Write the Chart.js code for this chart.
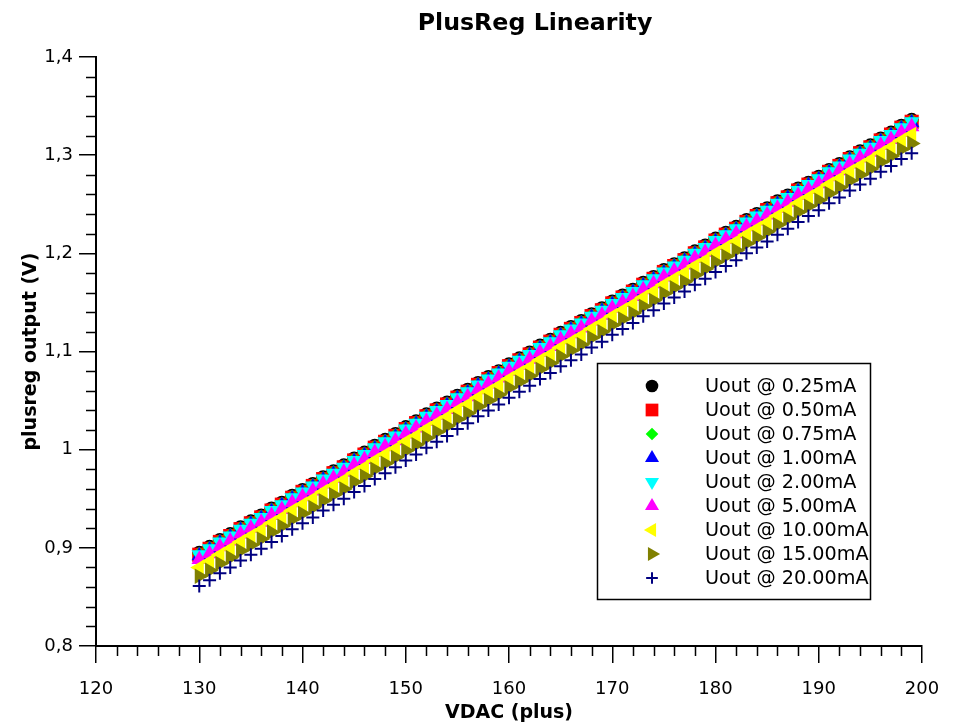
<!DOCTYPE html>
<html>
<head>
<meta charset="utf-8">
<title>PlusReg Linearity</title>
<script src="https://cdn.jsdelivr.net/npm/chart.js@4.4.1/dist/chart.umd.min.js"></script>
<style>
  html, body { margin: 0; padding: 0; background: #fff; }
  #wrap { position: relative; width: 960px; height: 725px; }
</style>
</head>
<body>
<div id="wrap"><canvas id="linChart"></canvas></div>
<script>
// PlusReg linearity - output voltage vs VDAC setting for several load currents

const FONT = 'DejaVu Sans';

// VDAC steps (x axis)
const vdac = [
  130, 131, 132, 133, 134, 135, 136, 137, 138, 139,
  140, 141, 142, 143, 144, 145, 146, 147, 148, 149,
  150, 151, 152, 153, 154, 155, 156, 157, 158, 159,
  160, 161, 162, 163, 164, 165, 166, 167, 168, 169,
  170, 171, 172, 173, 174, 175, 176, 177, 178, 179,
  180, 181, 182, 183, 184, 185, 186, 187, 188, 189,
  190, 191, 192, 193, 194, 195, 196, 197, 198, 199
];

// measured output (V), one list per load current
const u025 = [
  0.895, 0.901, 0.908, 0.914, 0.921, 0.927, 0.933, 0.940, 0.946, 0.953,
  0.959, 0.965, 0.972, 0.978, 0.984, 0.991, 0.997, 1.004, 1.010, 1.016,
  1.023, 1.029, 1.036, 1.042, 1.048, 1.055, 1.061, 1.068, 1.074, 1.080,
  1.087, 1.093, 1.099, 1.106, 1.112, 1.119, 1.125, 1.131, 1.138, 1.144,
  1.151, 1.157, 1.163, 1.170, 1.176, 1.183, 1.189, 1.195, 1.202, 1.208,
  1.215, 1.221, 1.227, 1.234, 1.240, 1.246, 1.253, 1.259, 1.266, 1.272,
  1.278, 1.285, 1.291, 1.298, 1.304, 1.310, 1.317, 1.323, 1.330, 1.336
];
const u050 = [
  0.893, 0.899, 0.906, 0.912, 0.919, 0.925, 0.931, 0.938, 0.944, 0.951,
  0.957, 0.963, 0.970, 0.976, 0.982, 0.989, 0.995, 1.002, 1.008, 1.014,
  1.021, 1.027, 1.034, 1.040, 1.046, 1.053, 1.059, 1.066, 1.072, 1.078,
  1.085, 1.091, 1.097, 1.104, 1.110, 1.117, 1.123, 1.129, 1.136, 1.142,
  1.149, 1.155, 1.161, 1.168, 1.174, 1.181, 1.187, 1.193, 1.200, 1.206,
  1.213, 1.219, 1.225, 1.232, 1.238, 1.244, 1.251, 1.257, 1.264, 1.270,
  1.276, 1.283, 1.289, 1.296, 1.302, 1.308, 1.315, 1.321, 1.328, 1.334
];
const u075 = [
  0.894, 0.900, 0.907, 0.913, 0.920, 0.926, 0.932, 0.939, 0.945, 0.952,
  0.958, 0.964, 0.971, 0.977, 0.983, 0.990, 0.996, 1.003, 1.009, 1.015,
  1.022, 1.028, 1.035, 1.041, 1.047, 1.054, 1.060, 1.067, 1.073, 1.079,
  1.086, 1.092, 1.098, 1.105, 1.111, 1.118, 1.124, 1.130, 1.137, 1.143,
  1.150, 1.156, 1.162, 1.169, 1.175, 1.182, 1.188, 1.194, 1.201, 1.207,
  1.214, 1.220, 1.226, 1.233, 1.239, 1.245, 1.252, 1.258, 1.265, 1.271,
  1.277, 1.284, 1.290, 1.297, 1.303, 1.309, 1.316, 1.322, 1.329, 1.335
];
const u100 = [
  0.892, 0.898, 0.905, 0.911, 0.918, 0.924, 0.930, 0.937, 0.943, 0.950,
  0.956, 0.962, 0.969, 0.975, 0.981, 0.988, 0.994, 1.001, 1.007, 1.013,
  1.020, 1.026, 1.033, 1.039, 1.045, 1.052, 1.058, 1.065, 1.071, 1.077,
  1.084, 1.090, 1.096, 1.103, 1.109, 1.116, 1.122, 1.128, 1.135, 1.141,
  1.148, 1.154, 1.160, 1.167, 1.173, 1.180, 1.186, 1.192, 1.199, 1.205,
  1.212, 1.218, 1.224, 1.231, 1.237, 1.243, 1.250, 1.256, 1.263, 1.269,
  1.275, 1.282, 1.288, 1.295, 1.301, 1.307, 1.314, 1.320, 1.327, 1.333
];
const u200 = [
  0.893, 0.899, 0.906, 0.912, 0.919, 0.925, 0.931, 0.938, 0.944, 0.951,
  0.957, 0.963, 0.970, 0.976, 0.982, 0.989, 0.995, 1.002, 1.008, 1.014,
  1.021, 1.027, 1.034, 1.040, 1.046, 1.053, 1.059, 1.066, 1.072, 1.078,
  1.085, 1.091, 1.097, 1.104, 1.110, 1.117, 1.123, 1.129, 1.136, 1.142,
  1.149, 1.155, 1.161, 1.168, 1.174, 1.181, 1.187, 1.193, 1.200, 1.206,
  1.213, 1.219, 1.225, 1.232, 1.238, 1.244, 1.251, 1.257, 1.264, 1.270,
  1.276, 1.283, 1.289, 1.296, 1.302, 1.308, 1.315, 1.321, 1.328, 1.334
];
const u500 = [
  0.888, 0.894, 0.901, 0.907, 0.914, 0.920, 0.926, 0.933, 0.939, 0.946,
  0.952, 0.958, 0.965, 0.971, 0.977, 0.984, 0.990, 0.997, 1.003, 1.009,
  1.016, 1.022, 1.029, 1.035, 1.041, 1.048, 1.054, 1.061, 1.067, 1.073,
  1.080, 1.086, 1.092, 1.099, 1.105, 1.112, 1.118, 1.124, 1.131, 1.137,
  1.144, 1.150, 1.156, 1.163, 1.169, 1.176, 1.182, 1.188, 1.195, 1.201,
  1.208, 1.214, 1.220, 1.227, 1.233, 1.239, 1.246, 1.252, 1.259, 1.265,
  1.271, 1.278, 1.284, 1.291, 1.297, 1.303, 1.310, 1.316, 1.323, 1.329
];
const u1000 = [
  0.880, 0.886, 0.893, 0.899, 0.906, 0.912, 0.918, 0.925, 0.931, 0.938,
  0.944, 0.950, 0.957, 0.963, 0.969, 0.976, 0.982, 0.989, 0.995, 1.001,
  1.008, 1.014, 1.021, 1.027, 1.033, 1.040, 1.046, 1.053, 1.059, 1.065,
  1.072, 1.078, 1.084, 1.091, 1.097, 1.104, 1.110, 1.116, 1.123, 1.129,
  1.136, 1.142, 1.148, 1.155, 1.161, 1.168, 1.174, 1.180, 1.187, 1.193,
  1.200, 1.206, 1.212, 1.219, 1.225, 1.231, 1.238, 1.244, 1.251, 1.257,
  1.263, 1.270, 1.276, 1.283, 1.289, 1.295, 1.302, 1.308, 1.315, 1.321
];
const u1500 = [
  0.871, 0.877, 0.884, 0.890, 0.897, 0.903, 0.909, 0.916, 0.922, 0.929,
  0.935, 0.941, 0.948, 0.954, 0.960, 0.967, 0.973, 0.980, 0.986, 0.992,
  0.999, 1.005, 1.012, 1.018, 1.024, 1.031, 1.037, 1.044, 1.050, 1.056,
  1.063, 1.069, 1.075, 1.082, 1.088, 1.095, 1.101, 1.107, 1.114, 1.120,
  1.127, 1.133, 1.139, 1.146, 1.152, 1.159, 1.165, 1.171, 1.178, 1.184,
  1.191, 1.197, 1.203, 1.210, 1.216, 1.222, 1.229, 1.235, 1.242, 1.248,
  1.254, 1.261, 1.267, 1.274, 1.280, 1.286, 1.293, 1.299, 1.306, 1.312
];
const u2000 = [
  0.861, 0.867, 0.874, 0.880, 0.887, 0.893, 0.899, 0.906, 0.912, 0.919,
  0.925, 0.931, 0.938, 0.944, 0.950, 0.957, 0.963, 0.970, 0.976, 0.982,
  0.989, 0.995, 1.002, 1.008, 1.014, 1.021, 1.027, 1.034, 1.040, 1.046,
  1.053, 1.059, 1.065, 1.072, 1.078, 1.085, 1.091, 1.097, 1.104, 1.110,
  1.117, 1.123, 1.129, 1.136, 1.142, 1.149, 1.155, 1.161, 1.168, 1.174,
  1.181, 1.187, 1.193, 1.200, 1.206, 1.212, 1.219, 1.225, 1.232, 1.238,
  1.244, 1.251, 1.257, 1.264, 1.270, 1.276, 1.283, 1.289, 1.296, 1.302
];

const seriesLabels = [
  'Uout @ 0.25mA', 'Uout @ 0.50mA', 'Uout @ 0.75mA', 'Uout @ 1.00mA', 'Uout @ 2.00mA',
  'Uout @ 5.00mA', 'Uout @ 10.00mA', 'Uout @ 15.00mA', 'Uout @ 20.00mA'
];
const seriesValues = [u025, u050, u075, u100, u200, u500, u1000, u1500, u2000];

const xTickLabels = ['120', '130', '140', '150', '160', '170', '180', '190', '200'];
const yTickLabels = ['0,8', '0,9', '1', '1,1', '1,2', '1,3', '1,4'];

// marker look per series (radius in the plot; legend uses a bit smaller)
const markers = [
  { color: '#000000', style: 'circle',   radius: 7,   rotation: 0 },
  { color: '#ff0000', style: 'rect',     radius: 10,  rotation: 0 },
  { color: '#00ff00', style: 'rectRot',  radius: 7,   rotation: 0 },
  { color: '#0000ff', style: 'triangle', radius: 9,   rotation: 0 },
  { color: '#00ffff', style: 'triangle', radius: 9,   rotation: 180 },
  { color: '#ff00ff', style: 'triangle', radius: 9,   rotation: 0 },
  { color: '#ffff00', style: 'triangle', radius: 9,   rotation: -90 },
  { color: '#808000', style: 'triangle', radius: 9,   rotation: 90 },
  { color: '#000080', style: 'cross',    radius: 6.5, rotation: 0 }
];

function markerOpts(m, scale) {
  const isCross = m.style === 'cross';
  return {
    pointStyle: m.style,
    radius: m.radius * (scale || 1),
    rotation: m.rotation,
    borderWidth: isCross ? 2 : 0
  };
}

const datasets = seriesValues.map((vals, i) => {
  const m = markers[i];
  const o = markerOpts(m);
  return {
    label: seriesLabels[i],
    data: vals.map((v, k) => ({ x: vdac[k], y: v })),
    showLine: false,
    pointStyle: o.pointStyle,
    pointRadius: o.radius,
    pointRotation: o.rotation,
    pointBackgroundColor: m.color,
    pointBorderColor: m.color,
    pointBorderWidth: o.borderWidth,
    order: -i   // later series drawn on top
  };
});

// title drawn by hand so it sits where the original put it
const titlePlugin = {
  id: 'plotTitle',
  afterDraw(chart) {
    const ctx = chart.ctx;
    ctx.save();
    ctx.font = 'bold 23.7px "' + FONT + '"';
    ctx.fillStyle = '#000';
    ctx.textAlign = 'center';
    ctx.textBaseline = 'alphabetic';
    ctx.fillText('PlusReg Linearity', 535, 30);
    ctx.restore();
  }
};

// minor ticks, every 2 on x and every 0.02 on y
const minorTicks = {
  id: 'minorTicks',
  afterDraw(chart) {
    const { ctx, chartArea, scales } = chart;
    ctx.save();
    ctx.strokeStyle = '#000';
    ctx.lineWidth = 1.5;
    ctx.beginPath();
    for (let v = 120; v <= 200; v += 2) {
      if (v % 10 === 0) continue;
      const px = Math.round(scales.x.getPixelForValue(v)) + 0.5;
      ctx.moveTo(px, chartArea.bottom);
      ctx.lineTo(px, chartArea.bottom + 10);
    }
    for (let k = 80; k <= 140; k += 2) {
      if (k % 10 === 0) continue;
      const py = Math.round(scales.y.getPixelForValue(k / 100)) + 0.5;
      ctx.moveTo(chartArea.left - 10, py);
      ctx.lineTo(chartArea.left, py);
    }
    ctx.stroke();
    ctx.restore();
  }
};

// boxed legend inside the plot
const boxLegend = {
  id: 'boxLegend',
  afterDatasetsDraw(chart) {
    const ctx = chart.ctx;
    const bx = 597.5, by = 363.5, bw = 273, bh = 236;
    ctx.save();
    ctx.fillStyle = '#fff';
    ctx.fillRect(bx, by, bw, bh);
    ctx.strokeStyle = '#000';
    ctx.lineWidth = 1.5;
    ctx.strokeRect(bx, by, bw, bh);
    ctx.font = '19.2px "' + FONT + '"';
    ctx.textAlign = 'left';
    ctx.textBaseline = 'middle';
    seriesLabels.forEach((lab, i) => {
      const y = 386 + i * 24;
      const m = markers[i];
      const o = markerOpts(m, 0.9);
      ctx.fillStyle = m.color;
      ctx.strokeStyle = m.color;
      ctx.lineWidth = o.borderWidth;
      Chart.helpers.drawPoint(ctx, o, 652, y);
      ctx.fillStyle = '#000';
      ctx.fillText(lab, 705, y + 1);
    });
    ctx.restore();
  }
};

function createLinearityChart() {
  const ctx = document.getElementById('linChart');
  return new Chart(ctx.getContext('2d'), {
    type: 'scatter',
    data: { datasets: datasets },
    options: {
      responsive: true,
      maintainAspectRatio: false,
      animation: false,
      layout: { padding: { top: 57, right: 38, left: 0, bottom: 0 } },
      plugins: {
        legend: { display: false },
        tooltip: { enabled: false },
        title: { display: false }
      },
      scales: {
        x: {
          type: 'linear',
          position: 'bottom',
          min: 120,
          max: 200,
          ticks: {
            stepSize: 10,
            color: '#000',
            font: { family: FONT, size: 18 },
            padding: 16,
            maxRotation: 0,
            autoSkip: false,
            callback: (v, i) => xTickLabels[i]
          },
          grid: { drawOnChartArea: false, drawTicks: true, tickLength: 17, color: '#000', lineWidth: 1.5 },
          border: { display: true, color: '#000', width: 2 },
          title: {
            display: true,
            text: 'VDAC (plus)',
            color: '#000',
            font: { family: FONT, size: 19, weight: 'bold' },
            padding: { top: 0, bottom: 1 }
          },
          afterFit: (s) => { s.height = 79; }
        },
        y: {
          type: 'linear',
          min: 0.8,
          max: 1.4,
          ticks: {
            stepSize: 0.1,
            color: '#000',
            font: { family: FONT, size: 18 },
            padding: 6,
            autoSkip: false,
            callback: (v, i) => yTickLabels[i]
          },
          grid: { drawOnChartArea: false, drawTicks: true, tickLength: 17, color: '#000', lineWidth: 1.5 },
          border: { display: true, color: '#000', width: 2 },
          title: {
            display: true,
            text: 'plusreg output (V)',
            color: '#000',
            font: { family: FONT, size: 19, weight: 'bold' },
            padding: { top: 20, bottom: 0 }
          },
          afterFit: (s) => { s.width = 96; }
        }
      }
    },
    plugins: [titlePlugin, minorTicks, boxLegend]
  });
}

createLinearityChart();
</script>
</body>
</html>
